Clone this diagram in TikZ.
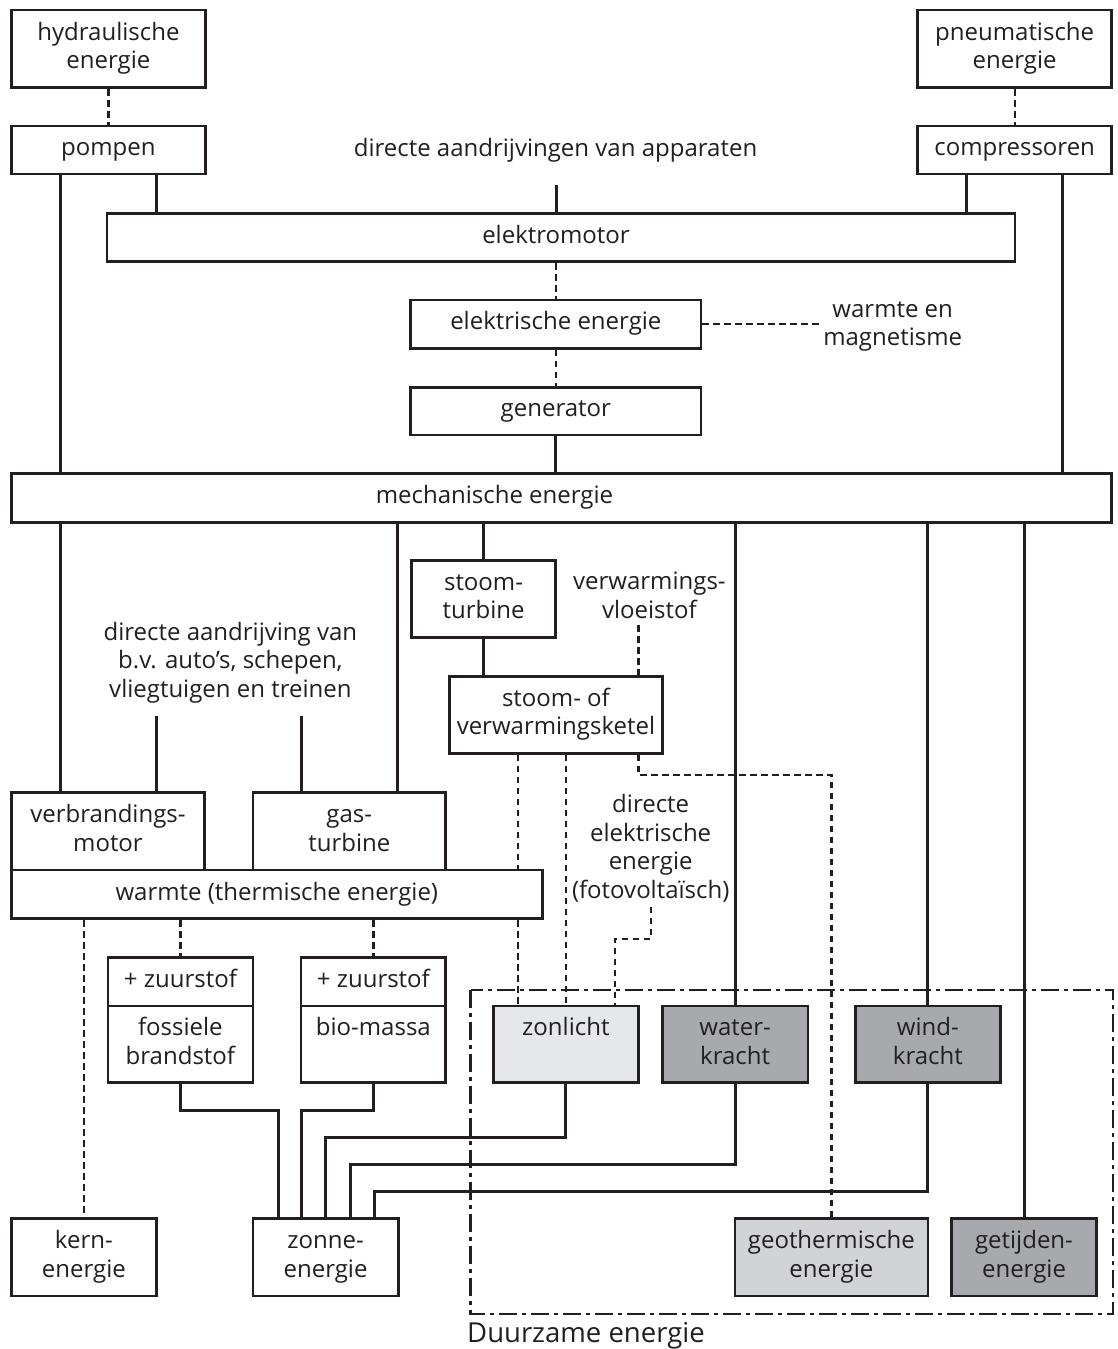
\documentclass[tikz,border=0pt]{standalone}
\usepackage{fontspec}
\setmainfont{Open Sans}
\definecolor{ink}{HTML}{231F20}
\definecolor{greyL}{HTML}{E6E7E8}
\definecolor{greyM}{HTML}{D1D3D4}
\definecolor{greyD}{HTML}{A7A9AC}
\newcommand\fs{\fontsize{24}{28.5}\selectfont}
\begin{document}
\begin{tikzpicture}[x=1pt,y=-1pt,
  box/.style={draw=ink, line width=2.8pt, fill=white, inner sep=0pt, align=center, font=\fs, text=ink},
  conn/.style={draw=ink, line width=3pt},
  dot/.style={draw=ink, line width=2.3pt, dash pattern=on 6.5pt off 4.5pt},
  frame/.style={draw=ink, line width=2.3pt, dash pattern=on 18pt off 5pt on 4pt off 5pt},
  lbl/.style={inner sep=0pt, align=center, font=\fs, text=ink}]
\useasboundingbox[fill=white] (0,0) rectangle (1117,1349);

% top row
\node[box, minimum width=194pt, minimum height=77.7pt] (hyd) at (108.4,48.85) {\strut hydraulische\\energie\strut};
\node[box, minimum width=194pt, minimum height=77.7pt] (pneu) at (1014.65,48.85) {\strut pneumatische\\energie\strut};
\node[box, minimum width=194pt, minimum height=48pt] (pompen) at (108.4,150) {\strut pompen};
\node[box, minimum width=194pt, minimum height=48pt] (compr) at (1014.65,150) {\strut compressoren};
\node[lbl, anchor=base] (dirapp) at (555.5,156) {directe aandrijvingen van apparaten};
\coordinate (dirappend) at (556,185);

\node[box, minimum width=908pt, minimum height=48.4pt] (emot) at (561,237.5) {\strut elektromotor\hspace*{10pt}};
\node[box, minimum width=290.3pt, minimum height=48.3pt] (elek) at (555.85,324.15) {\strut elektrische energie};
\node[lbl] (wem) at (892.7,325.85) {\strut warmte en\\magnetisme\strut};
\node[box, minimum width=290.3pt, minimum height=47.7pt] (gen) at (555.85,411.15) {\strut generator};
\node[box, minimum width=1100.2pt, minimum height=49.4pt] (mech) at (561.5,498) {\strut mechanische energie\hspace*{134pt}};

% middle
\node[box, minimum width=144.3pt, minimum height=76.6pt] (st) at (483.55,599) {\strut stoom-\\turbine\strut};
\node[lbl] (vloei) at (649.4,598.5) {\strut verwarmings-\\vloeistof\strut};
\coordinate (vlend) at (638.6,625);
\node[box, minimum width=212.9pt, minimum height=76.6pt] (ketel) at (555.95,715) {\strut stoom- of\\verwarmingsketel\strut};
\node[lbl] (dirveh) at (230.4,662.8) {\strut directe aandrijving van\\b.v. auto’s, schepen,\\vliegtuigen en treinen\strut};
\coordinate (dvA) at (156,716);
\coordinate (dvB) at (301,716);
\node[box, minimum width=193.2pt, minimum height=77.3pt] (verbr) at (108,831.35) {\strut verbrandings-\\motor\strut};
\node[box, minimum width=192.8pt, minimum height=77.3pt] (gas) at (349.3,831.35) {\strut gas-\\turbine\strut};
\node[box, minimum width=530.8pt, minimum height=48.6pt] (warmte) at (276.8,894.3) {\strut warmte (thermische energie)};
\node[lbl] (pv) at (650.7,850) {\strut directe\\elektrische\\energie\\(fotovoltaïsch)\strut};
\coordinate (pvend) at (650.7,906.7);

% lower
\node[box, minimum width=145pt, minimum height=48.7pt] (zuur1) at (180.4,981.65) {\strut + zuurstof};
\node[box, minimum width=145pt, minimum height=76.7pt] (foss) at (180.4,1044.35) {\strut fossiele\\brandstof\strut};
\node[box, minimum width=144.7pt, minimum height=48.7pt] (zuur2) at (373.35,981.65) {\strut + zuurstof};
\node[box, minimum width=144.7pt, minimum height=76.7pt] (bio) at (373.35,1044.35) {\strut bio-massa\\\strut};
\node[box, fill=greyL, minimum width=145.5pt, minimum height=76.7pt] (zon) at (565.85,1044.35) {\strut zonlicht\\\strut};
\node[box, fill=greyD, minimum width=145.5pt, minimum height=76.7pt] (water) at (735.15,1044.35) {\strut water-\\kracht\strut};
\node[box, fill=greyD, minimum width=145pt, minimum height=76.7pt] (wind) at (927.9,1044.35) {\strut wind-\\kracht\strut};
\node[box, minimum width=145pt, minimum height=77.7pt] (kern) at (83.9,1257.15) {\strut kern-\\energie\strut};
\node[box, minimum width=145.3pt, minimum height=77.7pt] (zonne) at (325.55,1257.15) {\strut zonne-\\energie\strut};
\node[box, fill=greyM, minimum width=193pt, minimum height=77.7pt] (geo) at (831.4,1257.15) {\strut geothermische\\energie\strut};
\node[box, fill=greyD, minimum width=144.6pt, minimum height=77.7pt] (getij) at (1024,1257.15) {\strut getijden-\\energie\strut};

\draw[frame] (470.5,990) rectangle (1112.7,1314);
\node[lbl, anchor=base west, font=\fontsize{27.5}{32}\selectfont] (duur) at (467,1342) {Duurzame energie};

% connectors top
\draw[dot] (hyd.south) -- (pompen.north);
\draw[dot] (pneu.south) -- (compr.north);
\draw[conn] (60,0 |- pompen.south) -- (60,0 |- mech.north);
\draw[conn] (156,0 |- pompen.south) -- (156,0 |- emot.north);
\draw[conn] (dirappend) -- (dirappend |- emot.north);
\draw[conn] (966,0 |- compr.south) -- (966,0 |- emot.north);
\draw[conn] (1062.4,0 |- compr.south) -- (1062.4,0 |- mech.north);
\draw[dot] (elek.north |- emot.south) -- (elek.north);
\draw[dot] (elek.south) -- (gen.north);
\draw[dot] (elek.east) -- (elek.east -| wem.west);
\draw[conn] (gen.south) -- (gen.south |- mech.north);

% connectors middle
\draw[conn] (60,0 |- mech.south) -- (60,0 |- verbr.north);
\draw[conn] (397,0 |- mech.south) -- (397,0 |- gas.north);
\draw[conn] (st.north |- mech.south) -- (st.north);
\draw[conn] (st.south) -- (st.south |- ketel.north);
\draw[conn] (water.north |- mech.south) -- (water.north);
\draw[conn] (wind.north |- mech.south) -- (wind.north);
\draw[conn] (getij.north |- mech.south) -- (getij.north);
\draw[dot] (vlend) -- (vlend |- ketel.north);
\draw[conn] (dvA) -- (dvA |- verbr.north);
\draw[conn] (dvB) -- (dvB |- gas.north);
\draw[dot] (517.8,0 |- ketel.south) -- (517.8,0 |- warmte.north);
\draw[dot] (517.8,0 |- warmte.south) -- (517.8,0 |- zon.north);
\draw[dot] (zon.north |- ketel.south) -- (zon.north);
\draw[dot] (638.6,0 |- ketel.south) -- (638.6,775) -| (geo.north);
\draw[dot] (pvend) -- (650.7,939.3) -| (614.9,0 |- zon.north);
\draw[dot] (kern.north |- warmte.south) -- (kern.north);
\draw[dot] (zuur1.north |- warmte.south) -- (zuur1.north);
\draw[dot] (zuur2.north |- warmte.south) -- (zuur2.north);

% connectors bottom
\draw[conn] (foss.south) -- (180.4,1110) -| (278.6,0 |- zonne.north);
\draw[conn] (bio.south) -- (373.35,1110) -| (301.8,0 |- zonne.north);
\draw[conn] (zon.south) -- (565.85,1137.3) -| (325.7,0 |- zonne.north);
\draw[conn] (water.south) -- (735.15,1164.3) -| (350,0 |- zonne.north);
\draw[conn] (wind.south) -- (927.9,1191) -| (374.3,0 |- zonne.north);
\end{tikzpicture}
\end{document}
